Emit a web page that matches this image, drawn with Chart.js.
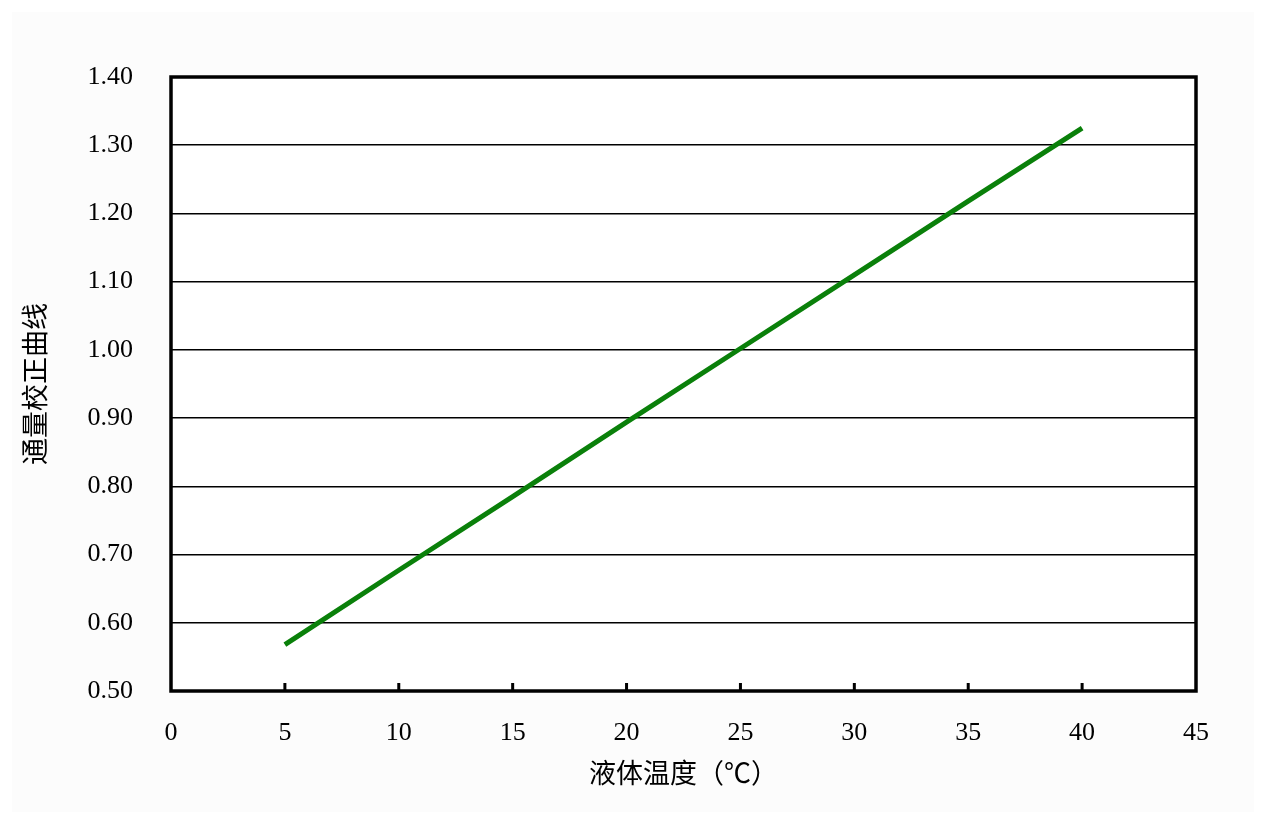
<!DOCTYPE html>
<html>
<head>
<meta charset="utf-8">
<script src="https://cdn.jsdelivr.net/npm/chart.js@4/dist/chart.umd.min.js"></script>
<style>
  html, body { margin: 0; padding: 0; background: #ffffff; }
  #panel { position: absolute; left: 12px; top: 12px; width: 1242px; height: 800px; background: #fcfcfc; }
  #wrap { position: absolute; left: 0; top: 0; width: 1266px; height: 823px; }
</style>
</head>
<body>
<div id="panel"></div>
<div id="wrap"><canvas id="chart"></canvas></div>
<script>
// 液体温度 (℃) vs 通量校正系数
const temperatures = [5, 10, 15, 20, 25, 30, 35, 40];
const correction = [0.568, 0.677, 0.785, 0.894, 1.002, 1.110, 1.218, 1.325];
const xTitle = '液体温度（℃）';
const yTitle = '通量校正曲线';

const FONT = "'Liberation Serif', 'Noto Sans CJK SC', serif";
const CJK = "'Noto Sans CJK SC', sans-serif";

// frame round the plot + short inward ticks on the x axis
const framePlugin = {
  id: 'frame',
  beforeDraw(chart) {
    const { ctx, chartArea: a } = chart;
    ctx.save();
    ctx.fillStyle = '#ffffff';
    ctx.fillRect(a.left, a.top, a.right - a.left, a.bottom - a.top);
    ctx.restore();
  },
  afterDraw(chart) {
    const { ctx, chartArea: a } = chart;
    const xs = chart.scales.x;
    ctx.save();
    ctx.strokeStyle = '#000';
    ctx.lineWidth = 3;
    ctx.beginPath();
    xs.ticks.forEach((t, i) => {
      const px = xs.getPixelForTick(i);
      if (px <= a.left + 2 || px >= a.right - 2) return;
      ctx.moveTo(px, a.bottom);
      ctx.lineTo(px, a.bottom - 8);
    });
    ctx.stroke();
    ctx.lineWidth = 3.5;
    ctx.strokeRect(a.left, a.top, a.right - a.left, a.bottom - a.top);
    ctx.restore();
  }
};

new Chart(document.getElementById('chart'), {
  type: 'line',
  data: {
    datasets: [{
      data: temperatures.map((t, i) => ({ x: t, y: correction[i] })),
      borderColor: '#0a800a',
      borderWidth: 5,
      pointRadius: 0,
      tension: 0
    }]
  },
  options: {
    responsive: true,
    maintainAspectRatio: false,
    animation: false,
    layout: { padding: { left: 0, top: 77, right: 70, bottom: 0 } },
    plugins: { legend: { display: false }, tooltip: { enabled: false } },
    scales: {
      x: {
        type: 'linear',
        min: 0, max: 45,
        grid: { display: false, drawTicks: false },
        border: { display: false },
        ticks: { stepSize: 5, padding: 27, color: '#000', font: { family: FONT, size: 26 } },
        title: { display: true, text: xTitle, color: '#000', font: { family: CJK, size: 27 }, padding: { top: 0, bottom: 34 } },
        afterFit(s) { s.height = 132; }
      },
      y: {
        min: 0.5, max: 1.4,
        grid: { color: '#000', lineWidth: 1.5, drawTicks: false },
        border: { display: false },
        ticks: {
          stepSize: 0.1, padding: 38, color: '#000',
          font: { family: FONT, size: 26 },
          callback: v => v.toFixed(2)
        },
        title: { display: true, text: yTitle, color: '#000', font: { family: CJK, size: 27 }, padding: { top: 19, bottom: 0 } },
        afterFit(s) { s.width = 171; }
      }
    }
  },
  plugins: [framePlugin]
});
</script>
</body>
</html>
